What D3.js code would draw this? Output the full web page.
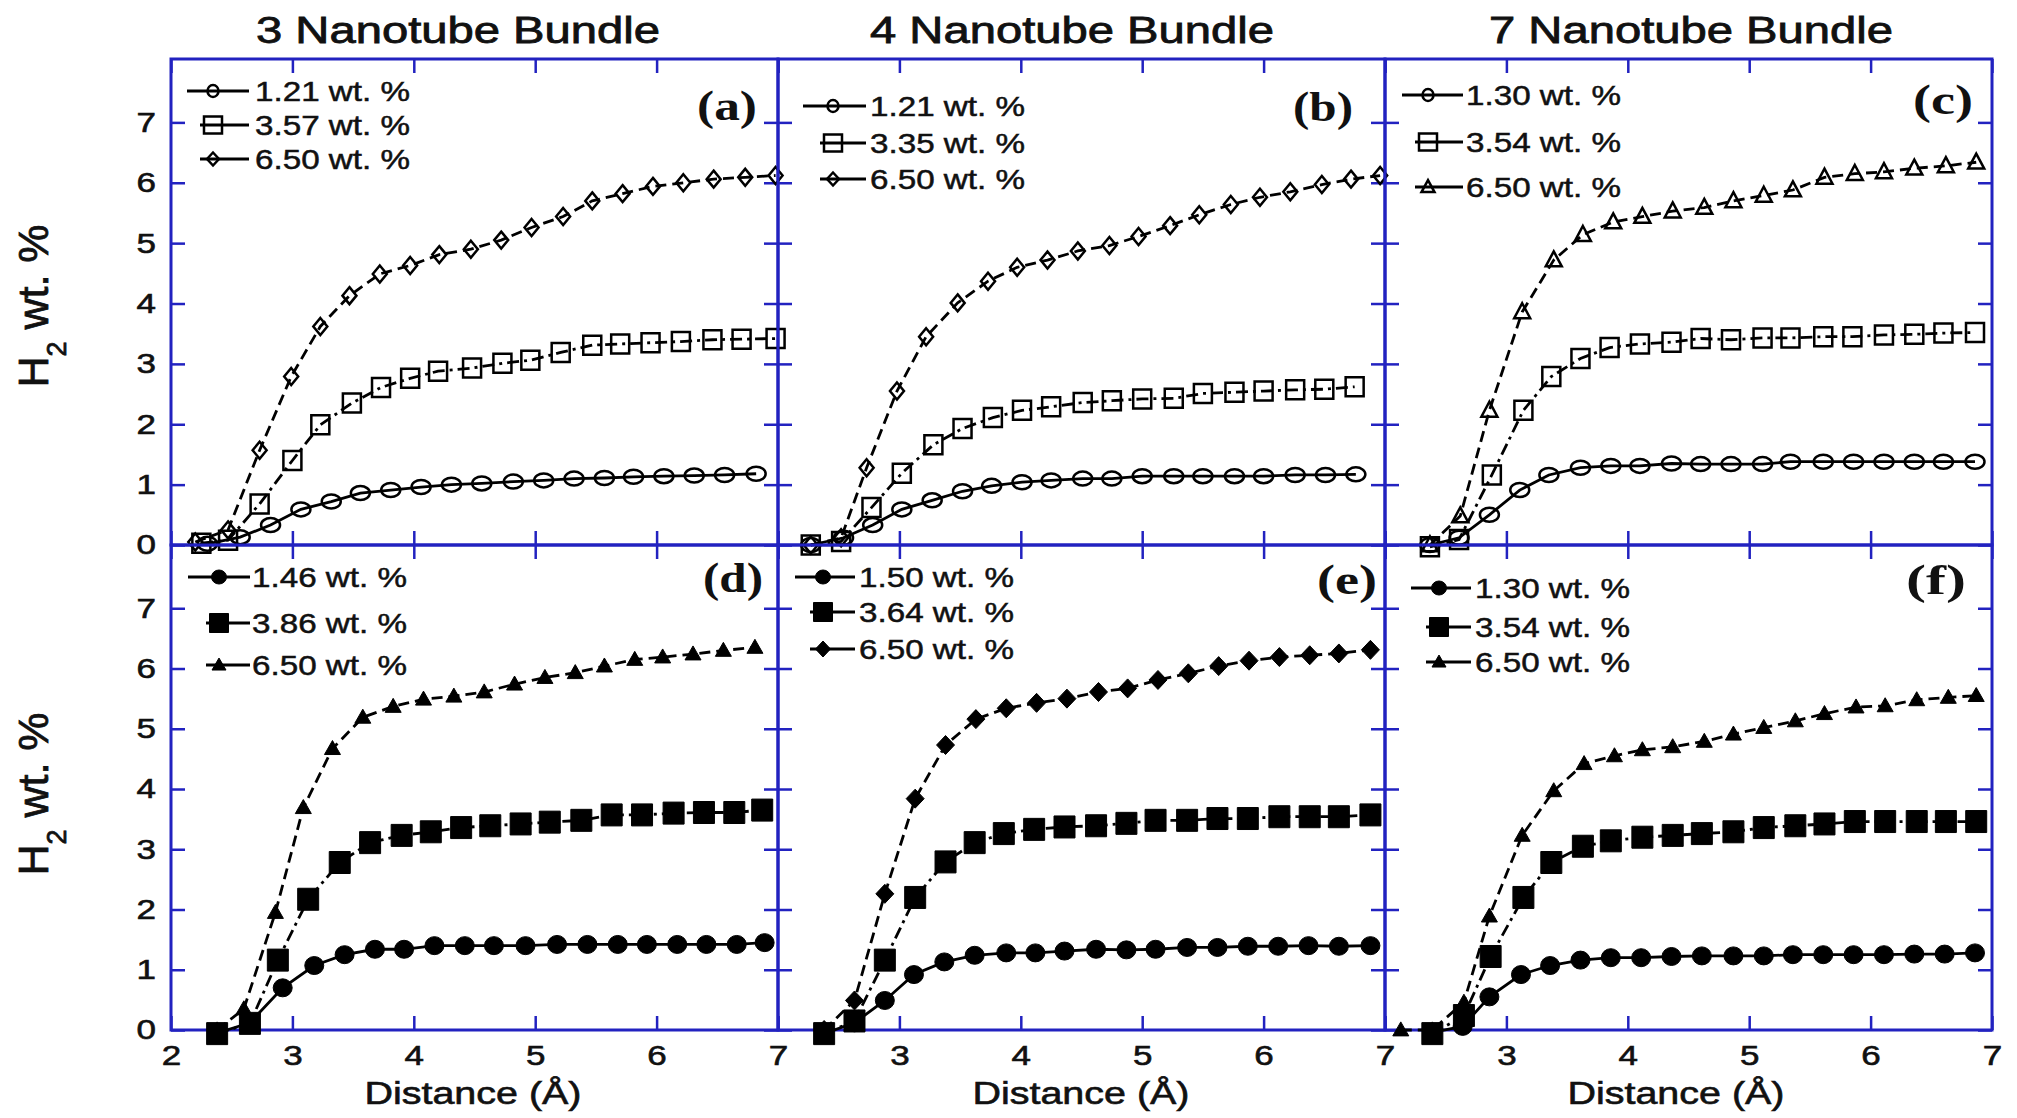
<!DOCTYPE html>
<html>
<head>
<meta charset="utf-8">
<script src="https://cdn.jsdelivr.net/npm/d3@7"></script>
<style>
  body { margin: 0; background: #fff; }
  svg { display: block; }
</style>
</head>
<body>
<div id="chart"></div>
<script>
// ---- data ----
var columnTitles = ['3 Nanotube Bundle', '4 Nanotube Bundle', '7 Nanotube Bundle'];
var panelTags = ['(a)', '(b)', '(c)', '(d)', '(e)', '(f)'];
var xTickValues = [2, 3, 4, 5, 6, 7];
var yTickValues = [0, 1, 2, 3, 4, 5, 6, 7];
var xTitle = 'Distance (\u00C5)';

var legendA = ['1.21 wt. %', '3.57 wt. %', '6.50 wt. %'];
var legendB = ['1.21 wt. %', '3.35 wt. %', '6.50 wt. %'];
var legendC = ['1.30 wt. %', '3.54 wt. %', '6.50 wt. %'];
var legendD = ['1.46 wt. %', '3.86 wt. %', '6.50 wt. %'];
var legendE = ['1.50 wt. %', '3.64 wt. %', '6.50 wt. %'];
var legendF = ['1.30 wt. %', '3.54 wt. %', '6.50 wt. %'];

// (a) 3 nanotube bundle, open symbols
var xA1 = [2.3, 2.57, 2.82, 3.07, 3.32, 3.56, 3.81, 4.06, 4.31, 4.56, 4.82, 5.07, 5.32, 5.57, 5.81, 6.06, 6.31, 6.56, 6.82];
var yA1 = [0.02, 0.13, 0.33, 0.59, 0.72, 0.86, 0.91, 0.96, 1.0, 1.02, 1.05, 1.07, 1.1, 1.11, 1.13, 1.14, 1.15, 1.16, 1.18];
var xA2 = [2.25, 2.47, 2.73, 3.0, 3.23, 3.49, 3.73, 3.97, 4.2, 4.48, 4.73, 4.96, 5.21, 5.47, 5.7, 5.95, 6.2, 6.46, 6.7, 6.98];
var yA2 = [0.03, 0.08, 0.68, 1.40, 1.99, 2.35, 2.61, 2.76, 2.88, 2.93, 3.01, 3.06, 3.19, 3.31, 3.33, 3.35, 3.37, 3.40, 3.41, 3.42];
var xA3 = [2.2, 2.47, 2.73, 2.99, 3.23, 3.47, 3.72, 3.97, 4.21, 4.47, 4.72, 4.97, 5.23, 5.47, 5.72, 5.97, 6.22, 6.47, 6.73, 6.98];
var yA3 = [0.05, 0.25, 1.57, 2.79, 3.62, 4.13, 4.49, 4.63, 4.81, 4.90, 5.05, 5.26, 5.44, 5.70, 5.82, 5.94, 6.0, 6.06, 6.09, 6.12];

// (b) 4 nanotube bundle
var xB1 = [2.27, 2.54, 2.78, 3.02, 3.27, 3.52, 3.76, 4.01, 4.25, 4.51, 4.75, 5.0, 5.26, 5.5, 5.76, 6.0, 6.26, 6.51, 6.76];
var yB1 = [0.0, 0.12, 0.33, 0.59, 0.74, 0.89, 0.98, 1.04, 1.07, 1.10, 1.10, 1.14, 1.14, 1.14, 1.14, 1.14, 1.16, 1.16, 1.17];
var xB2 = [2.27, 2.52, 2.77, 3.02, 3.28, 3.52, 3.77, 4.01, 4.25, 4.51, 4.75, 5.0, 5.26, 5.5, 5.76, 6.0, 6.26, 6.5, 6.75];
var yB2 = [0.0, 0.06, 0.62, 1.19, 1.66, 1.93, 2.11, 2.23, 2.29, 2.36, 2.39, 2.42, 2.43, 2.51, 2.53, 2.55, 2.57, 2.58, 2.62];
var xB3 = [2.27, 2.52, 2.73, 2.98, 3.22, 3.48, 3.73, 3.97, 4.22, 4.47, 4.73, 4.97, 5.23, 5.47, 5.73, 5.97, 6.22, 6.48, 6.72, 6.96];
var yB3 = [0.0, 0.12, 1.28, 2.55, 3.45, 4.01, 4.37, 4.60, 4.72, 4.87, 4.96, 5.11, 5.29, 5.47, 5.64, 5.76, 5.85, 5.97, 6.06, 6.12];

// (c) 7 nanotube bundle
var xC1 = [2.37, 2.61, 2.86, 3.11, 3.35, 3.61, 3.86, 4.1, 4.36, 4.6, 4.85, 5.11, 5.34, 5.61, 5.86, 6.11, 6.36, 6.6, 6.86];
var yC1 = [0.0, 0.12, 0.5, 0.91, 1.16, 1.28, 1.31, 1.31, 1.35, 1.34, 1.34, 1.34, 1.38, 1.38, 1.38, 1.38, 1.38, 1.38, 1.38];
var xC2 = [2.37, 2.61, 2.88, 3.14, 3.37, 3.61, 3.85, 4.1, 4.36, 4.6, 4.85, 5.11, 5.34, 5.61, 5.85, 6.11, 6.36, 6.6, 6.86];
var yC2 = [-0.03, 0.09, 1.16, 2.23, 2.79, 3.09, 3.27, 3.33, 3.36, 3.42, 3.40, 3.43, 3.43, 3.45, 3.45, 3.48, 3.49, 3.51, 3.52];
var xC3 = [2.37, 2.62, 2.86, 3.13, 3.39, 3.63, 3.88, 4.12, 4.37, 4.63, 4.87, 5.12, 5.36, 5.62, 5.87, 6.11, 6.36, 6.62, 6.87];
var yC3 = [0.0, 0.48, 2.23, 3.86, 4.72, 5.14, 5.35, 5.44, 5.53, 5.59, 5.70, 5.79, 5.88, 6.09, 6.15, 6.18, 6.24, 6.28, 6.34];

// (d) 3 nanotube bundle, filled symbols
var xD1 = [2.38, 2.65, 2.92, 3.18, 3.43, 3.68, 3.92, 4.17, 4.42, 4.66, 4.92, 5.18, 5.43, 5.68, 5.92, 6.17, 6.41, 6.66, 6.89];
var yD1 = [-0.05, 0.12, 0.70, 1.07, 1.25, 1.34, 1.34, 1.40, 1.40, 1.40, 1.40, 1.42, 1.42, 1.42, 1.42, 1.42, 1.42, 1.42, 1.45];
var xD2 = [2.38, 2.65, 2.88, 3.13, 3.39, 3.64, 3.9, 4.14, 4.39, 4.63, 4.88, 5.12, 5.38, 5.63, 5.88, 6.14, 6.39, 6.64, 6.87];
var yD2 = [-0.06, 0.11, 1.16, 2.17, 2.78, 3.11, 3.23, 3.29, 3.36, 3.39, 3.42, 3.45, 3.48, 3.57, 3.57, 3.60, 3.61, 3.61, 3.65];
var xD3 = [2.38, 2.6, 2.86, 3.09, 3.33, 3.58, 3.83, 4.08, 4.33, 4.58, 4.83, 5.08, 5.33, 5.57, 5.82, 6.05, 6.3, 6.55, 6.81];
var yD3 = [0.0, 0.35, 1.95, 3.69, 4.67, 5.19, 5.37, 5.49, 5.54, 5.61, 5.74, 5.85, 5.93, 6.04, 6.15, 6.19, 6.24, 6.30, 6.35];

// (e) 4 nanotube bundle
var xE1 = [2.38, 2.63, 2.88, 3.12, 3.37, 3.62, 3.88, 4.12, 4.36, 4.62, 4.87, 5.11, 5.37, 5.62, 5.87, 6.12, 6.37, 6.62, 6.88];
var yE1 = [-0.06, 0.12, 0.49, 0.92, 1.13, 1.24, 1.28, 1.28, 1.31, 1.34, 1.33, 1.34, 1.37, 1.37, 1.39, 1.39, 1.40, 1.39, 1.40];
var xE2 = [2.38, 2.63, 2.88, 3.13, 3.38, 3.62, 3.86, 4.11, 4.36, 4.62, 4.87, 5.11, 5.37, 5.62, 5.87, 6.13, 6.38, 6.62, 6.88];
var yE2 = [-0.06, 0.15, 1.16, 2.20, 2.79, 3.11, 3.26, 3.33, 3.37, 3.39, 3.43, 3.48, 3.48, 3.51, 3.51, 3.54, 3.54, 3.54, 3.57];
var xE3 = [2.38, 2.63, 2.88, 3.13, 3.38, 3.63, 3.88, 4.13, 4.38, 4.64, 4.88, 5.13, 5.38, 5.63, 5.88, 6.13, 6.38, 6.62, 6.88];
var yE3 = [0.0, 0.49, 2.26, 3.84, 4.73, 5.16, 5.34, 5.43, 5.50, 5.61, 5.67, 5.81, 5.92, 6.04, 6.13, 6.19, 6.22, 6.25, 6.31];

// (f) 7 nanotube bundle
var xF1 = [2.39, 2.64, 2.86, 3.12, 3.36, 3.61, 3.86, 4.11, 4.36, 4.61, 4.87, 5.12, 5.36, 5.61, 5.86, 6.11, 6.36, 6.61, 6.86];
var yF1 = [-0.04, 0.06, 0.55, 0.92, 1.07, 1.16, 1.20, 1.20, 1.22, 1.23, 1.23, 1.23, 1.25, 1.25, 1.25, 1.25, 1.26, 1.26, 1.28];
var xF2 = [2.39, 2.65, 2.87, 3.14, 3.37, 3.63, 3.86, 4.12, 4.37, 4.61, 4.87, 5.12, 5.38, 5.62, 5.87, 6.12, 6.38, 6.62, 6.87];
var yF2 = [-0.06, 0.24, 1.22, 2.20, 2.78, 3.05, 3.14, 3.20, 3.23, 3.26, 3.29, 3.36, 3.39, 3.42, 3.46, 3.46, 3.46, 3.46, 3.46];
var xF3 = [2.13, 2.39, 2.65, 2.86, 3.13, 3.39, 3.64, 3.89, 4.12, 4.37, 4.63, 4.87, 5.12, 5.38, 5.62, 5.88, 6.12, 6.38, 6.64, 6.87];
var yF3 = [0.0, 0.0, 0.46, 1.89, 3.23, 3.97, 4.42, 4.55, 4.65, 4.70, 4.79, 4.91, 5.02, 5.13, 5.25, 5.36, 5.38, 5.48, 5.52, 5.55];

// ---- layout ----
var W = 2017, H = 1118;
var blue = '#2222c0';
var ink = '#111';
var sans = '"Liberation Sans", Arial, sans-serif';
var serif = '"Liberation Serif", "Times New Roman", serif';
var colX = [171, 778, 1385];
var colW = 607;
var rowY = [59, 545];
var rowH = [486, 485];
var titleX = [458, 1072, 1691];
var xTitleX = [473, 1081, 1676];
var yTitleY = [306, 794];
var dashes = [null, '12,5,3,5', '11,6'];

var panels = [
    { col: 0, row: 0, legend: legendA, shapes: ['circle', 'square', 'diamond'],
      series: [[xA1, yA1], [xA2, yA2], [xA3, yA3]],
      leg: { x0: 187, xm: 213, x1: 249, tx: 255, ys: [91, 125, 159] }, tag: [757, 120] },
    { col: 1, row: 0, legend: legendB, shapes: ['circle', 'square', 'diamond'],
      series: [[xB1, yB1], [xB2, yB2], [xB3, yB3]],
      leg: { x0: 803, xm: 833, x1: 866, tx: 870, ys: [106, 143, 179] }, tag: [1353, 121] },
    { col: 2, row: 0, legend: legendC, shapes: ['circle', 'square', 'triangle'],
      series: [[xC1, yC1], [xC2, yC2], [xC3, yC3]],
      leg: { x0: 1402, xm: 1428, x1: 1463, tx: 1466, ys: [95, 142, 187] }, tag: [1973, 114] },
    { col: 0, row: 1, legend: legendD, shapes: ['circle', 'square', 'triangle'],
      series: [[xD1, yD1], [xD2, yD2], [xD3, yD3]],
      leg: { x0: 188, xm: 219, x1: 250, tx: 252, ys: [577, 623, 665] }, tag: [763, 592] },
    { col: 1, row: 1, legend: legendE, shapes: ['circle', 'square', 'diamond'],
      series: [[xE1, yE1], [xE2, yE2], [xE3, yE3]],
      leg: { x0: 795, xm: 823, x1: 855, tx: 859, ys: [577, 612, 649] }, tag: [1377, 594] },
    { col: 2, row: 1, legend: legendF, shapes: ['circle', 'square', 'triangle'],
      series: [[xF1, yF1], [xF2, yF2], [xF3, yF3]],
      leg: { x0: 1411, xm: 1439, x1: 1471, tx: 1475, ys: [588, 627, 662] }, tag: [1966, 594] }
];

// marker sizes [w, h]: open symbols on top row, filled on bottom row
var markerSize = {
    open:   { circle: [19, 14], square: [18, 19], diamond: [14, 17], triangle: [16, 15] },
    filled: { circle: [19, 18], square: [21, 22], diamond: [18, 19], triangle: [16, 14] }
};
var legendMarkerSize = {
    open:   { circle: [11, 12], square: [18, 17], diamond: [12, 13], triangle: [13, 12] },
    filled: { circle: [15, 14], square: [19, 19], diamond: [15, 16], triangle: [14, 12] }
};

function shapePath(shape, w, h) {
    var rx = w / 2, ry = h / 2;
    if (shape === 'circle') {
        return 'M' + (-rx) + ',0A' + rx + ',' + ry + ' 0 1,0 ' + rx + ',0A' + rx + ',' + ry + ' 0 1,0 ' + (-rx) + ',0Z';
    }
    if (shape === 'square') {
        return 'M' + (-rx) + ',' + (-ry) + 'H' + rx + 'V' + ry + 'H' + (-rx) + 'Z';
    }
    if (shape === 'diamond') {
        return 'M0,' + (-ry) + 'L' + rx + ',0L0,' + ry + 'L' + (-rx) + ',0Z';
    }
    return 'M0,' + (-h * 0.58) + 'L' + rx + ',' + (h * 0.42) + 'L' + (-rx) + ',' + (h * 0.42) + 'Z';
}

// slightly heavier text, like the scanned print
function ink_text(sel, weight) {
    return sel.attr('fill', ink).attr('stroke', ink).attr('stroke-width', weight || 0.5);
}

var svg = d3.select('#chart').append('svg')
    .attr('width', W)
    .attr('height', H)
    .style('background', '#fff');

// column titles
columnTitles.forEach(function(t, i) {
    ink_text(svg.append('text')
        .attr('x', titleX[i])
        .attr('y', 43)
        .attr('text-anchor', 'middle')
        .attr('font-family', sans)
        .attr('font-size', 37)
        .attr('textLength', 404)
        .attr('lengthAdjust', 'spacingAndGlyphs')
        .text(t), 0.8);
});

// y axis titles
yTitleY.forEach(function(cy) {
    var t = ink_text(svg.append('text')
        .attr('transform', 'translate(48,' + cy + ') rotate(-90)')
        .attr('text-anchor', 'middle')
        .attr('font-family', sans)
        .attr('font-size', 43), 0.8);
    t.append('tspan').text('H');
    t.append('tspan').attr('font-size', 27).attr('dy', 18).text('2');
    t.append('tspan').attr('dy', -18).text(' wt. %');
});

panels.forEach(function(p, pi) {
    var x0 = colX[p.col], y0 = rowY[p.row], h = rowH[p.row];
    var filled = p.row === 1;
    var g = svg.append('g');

    var x = d3.scaleLinear().domain([2, 7]).range([x0, x0 + colW]);
    var y = d3.scaleLinear().domain([0, 8.05]).range([y0 + h, y0]);

    // axes: inward blue ticks on all four sides
    var bottom = g.append('g')
        .attr('transform', 'translate(0,' + (y0 + h) + ')')
        .call(d3.axisBottom(x).tickValues(xTickValues).tickSize(-14).tickPadding(15)
            .tickFormat(function(d) {
                if (p.row === 0) return '';
                if (p.col > 0 && d === 2) return '';
                return d;
            }));
    var left = g.append('g')
        .attr('transform', 'translate(' + x0 + ',0)')
        .call(d3.axisLeft(y).tickValues(yTickValues).tickSize(-14).tickPadding(12)
            .tickFormat(function(d) { return p.col === 0 ? d : ''; }));
    var top = g.append('g')
        .attr('transform', 'translate(0,' + y0 + ')')
        .call(d3.axisTop(x).tickValues(xTickValues).tickSize(-14).tickFormat(''));
    var right = g.append('g')
        .attr('transform', 'translate(' + (x0 + colW) + ',0)')
        .call(d3.axisRight(y).tickValues(yTickValues).tickSize(-14).tickFormat(''));

    [bottom, left, top, right].forEach(function(ax) {
        ax.select('.domain').remove();
        ax.selectAll('line').attr('stroke', blue).attr('stroke-width', 2.5);
        ink_text(ax.selectAll('text'), 0.6)
            .attr('font-family', sans)
            .attr('font-size', 28)
            .attr('transform', 'scale(1.25,1)');
    });
    bottom.selectAll('text').attr('x', 0);

    // frame
    g.append('rect')
        .attr('x', x0).attr('y', y0)
        .attr('width', colW).attr('height', h)
        .attr('fill', 'none')
        .attr('stroke', blue)
        .attr('stroke-width', 3);

    // series lines
    var line = d3.line()
        .x(function(d) { return x(d[0]); })
        .y(function(d) { return y(d[1]); });

    p.series.forEach(function(s, si) {
        g.append('path')
            .datum(d3.zip(s[0], s[1]))
            .attr('d', line)
            .attr('fill', 'none')
            .attr('stroke', '#000')
            .attr('stroke-width', 2.8)
            .attr('stroke-dasharray', dashes[si]);
    });

    // markers
    var sizes = filled ? markerSize.filled : markerSize.open;
    p.series.forEach(function(s, si) {
        var shape = p.shapes[si];
        var sz = sizes[shape];
        g.append('g').selectAll('path')
            .data(d3.zip(s[0], s[1]))
            .join('path')
            .attr('d', shapePath(shape, sz[0], sz[1]))
            .attr('transform', function(d) { return 'translate(' + x(d[0]) + ',' + y(d[1]) + ')'; })
            .attr('fill', filled ? '#000' : 'none')
            .attr('stroke', '#000')
            .attr('stroke-width', filled ? 1 : 2.5);
    });

    // legend
    var lsizes = filled ? legendMarkerSize.filled : legendMarkerSize.open;
    p.legend.forEach(function(label, li) {
        var ly = p.leg.ys[li];
        var shape = p.shapes[li];
        var sz = lsizes[shape];
        var lx0 = li === 0 ? p.leg.x0 : p.leg.xm - 13;
        g.append('line')
            .attr('x1', lx0).attr('x2', p.leg.x1)
            .attr('y1', ly).attr('y2', ly)
            .attr('stroke', '#000')
            .attr('stroke-width', 2.8);
        g.append('path')
            .attr('d', shapePath(shape, sz[0], sz[1]))
            .attr('transform', 'translate(' + p.leg.xm + ',' + ly + ')')
            .attr('fill', filled ? '#000' : 'none')
            .attr('stroke', '#000')
            .attr('stroke-width', filled ? 1 : 2.5);
        ink_text(g.append('text')
            .attr('x', p.leg.tx)
            .attr('y', ly + 10)
            .attr('font-family', sans)
            .attr('font-size', 28)
            .attr('textLength', 155)
            .attr('lengthAdjust', 'spacingAndGlyphs')
            .text(label), 0.5);
    });

    // panel tag
    g.append('text')
        .attr('x', p.tag[0])
        .attr('y', p.tag[1])
        .attr('text-anchor', 'end')
        .attr('font-family', serif)
        .attr('font-weight', 'bold')
        .attr('font-size', 42)
        .attr('fill', ink)
        .attr('textLength', 60)
        .attr('lengthAdjust', 'spacingAndGlyphs')
        .text(panelTags[pi]);

    // x axis title on the bottom row
    if (p.row === 1) {
        ink_text(svg.append('text')
            .attr('x', xTitleX[p.col])
            .attr('y', 1104)
            .attr('text-anchor', 'middle')
            .attr('font-family', sans)
            .attr('font-size', 31)
            .attr('textLength', 217)
            .attr('lengthAdjust', 'spacingAndGlyphs')
            .text(xTitle), 0.6);
    }
});
</script>
</body>
</html>
